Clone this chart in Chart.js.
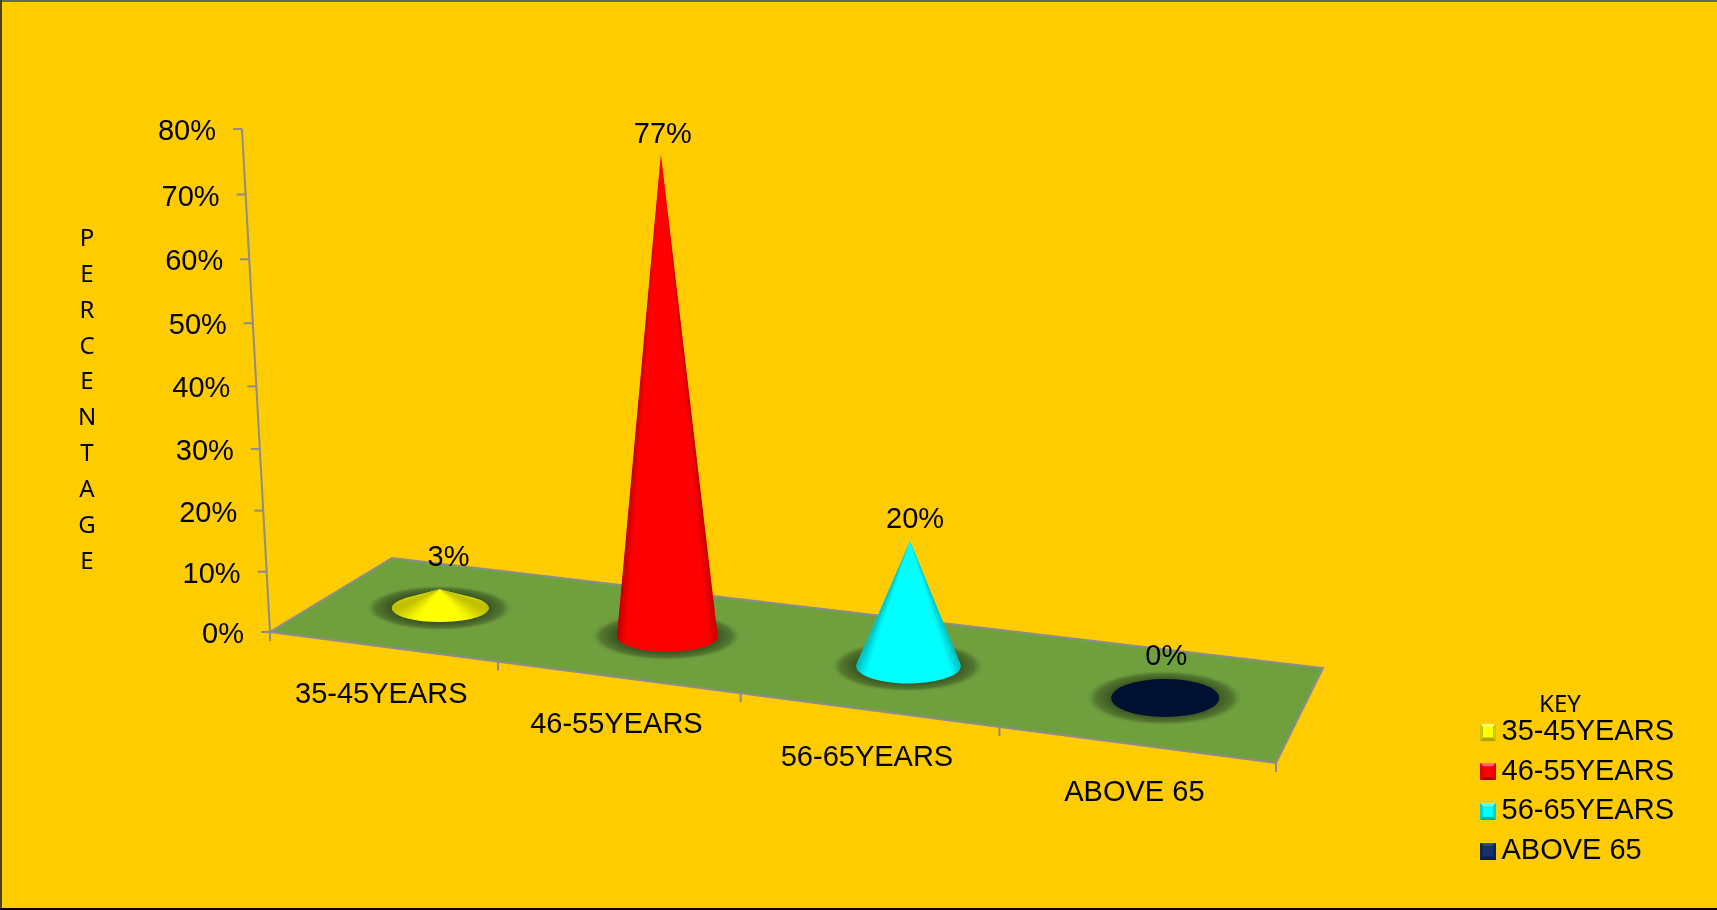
<!DOCTYPE html>
<html>
<head>
<meta charset="utf-8">
<title>Age groups</title>
<script src="https://cdn.jsdelivr.net/npm/chart.js@4/dist/chart.umd.min.js"></script>
<style>
  html, body { margin: 0; padding: 0; background: #FFCC00; }
  #caja { width: 1717px; height: 910px; }
</style>
</head>
<body>
<div id="caja"><canvas id="grafico" width="1717" height="910"></canvas></div>
<script>
const categorias = ['35-45YEARS', '46-55YEARS', '56-65YEARS', 'ABOVE 65'];
const valores = [3, 77, 20, 0];
const letrasEje = ['P', 'E', 'R', 'C', 'E', 'N', 'T', 'A', 'G', 'E'];
const tituloLeyenda = 'KEY';

const coloresCono = ['#ffff00', '#ff0000', '#00ffff', '#001030'];
const biselLeyenda = [
    ['#ffff00', '#ffff70', '#a8a800', '#c8c800'],
    ['#ff0000', '#ff6a6a', '#a80000', '#d80000'],
    ['#00ffff', '#70ffff', '#00a8a8', '#00d0d0'],
    ['#17306e', '#2c4c96', '#0c1c48', '#0f2358']
];

// esquinas del piso: frente-izq, frente-der, fondo-der, fondo-izq
const piso = [[270, 632], [1276, 763], [1323, 668], [392, 558]];
const ajusteEtiqueta = [[9, -31], [2, -19], [5, -21], [1, -41]];
const fuente = '"Liberation Sans", Arial, sans-serif';
const gris = '#8c8c8c';

const homografia = (() => {
    const [p0, p1, p2, p3] = piso;
    const sx = p0[0] - p1[0] + p2[0] - p3[0], sy = p0[1] - p1[1] + p2[1] - p3[1];
    const dx1 = p1[0] - p2[0], dx2 = p3[0] - p2[0], dy1 = p1[1] - p2[1], dy2 = p3[1] - p2[1];
    const den = dx1 * dy2 - dx2 * dy1;
    const g = (sx * dy2 - dx2 * sy) / den, h = (dx1 * sy - sx * dy1) / den;
    return {
        a: p1[0] - p0[0] + g * p1[0], b: p3[0] - p0[0] + h * p3[0], c: p0[0],
        d: p1[1] - p0[1] + g * p1[1], e: p3[1] - p0[1] + h * p3[1], f: p0[1], g, h
    };
})();

function proyectar(u, w) {
    const m = homografia;
    const z = m.g * u + m.h * w + 1;
    return [(m.a * u + m.b * w + m.c) / z, (m.d * u + m.e * w + m.f) / z];
}

// las verticales se abren un poco hacia los lados
function inclinacion(altura, x) {
    return altura * (x - 792) * 1.067e-4;
}

function aclarar(hex, f) {
    const n = parseInt(hex.slice(1), 16);
    const r = (n >> 16) & 255, g = (n >> 8) & 255, b = n & 255;
    return `rgb(${Math.round(r * f)},${Math.round(g * f)},${Math.round(b * f)})`;
}

function sombra(ctx, x, y, rx, ry) {
    ctx.save();
    ctx.translate(x - 1, y);
    ctx.scale(rx + 26, ry + 9);
    const g = ctx.createRadialGradient(0, 0, 0, 0, 0, 1);
    g.addColorStop(0, 'rgba(62,90,36,1)');
    g.addColorStop(0.68, 'rgba(62,90,36,1)');
    g.addColorStop(0.86, 'rgba(70,102,40,0.7)');
    g.addColorStop(1, 'rgba(112,160,62,0)');
    ctx.fillStyle = g;
    ctx.beginPath();
    ctx.arc(0, 0, 1, 0, Math.PI * 2);
    ctx.fill();
    ctx.restore();
}

function cono(ctx, x, y, rx, ry, altura, color) {
    if (altura <= ry * 0.2) {
        ctx.fillStyle = color;
        ctx.beginPath();
        ctx.ellipse(x, y, rx, ry, 0, 0, Math.PI * 2);
        ctx.fill();
        return;
    }
    const puntaX = x + inclinacion(altura, x), puntaY = y - altura;
    const t0 = -Math.asin(Math.min(0.95, ry / altura));

    // silueta en el color base
    ctx.save();
    ctx.beginPath();
    ctx.moveTo(puntaX, puntaY);
    ctx.ellipse(x, y, rx, ry, 0, t0, Math.PI - t0);
    ctx.closePath();
    ctx.fillStyle = color;
    ctx.fill();
    ctx.clip();

    // solo los lados se oscurecen, en cuñas desde la punta
    const umbral = Math.min(0.8, 0.36 + altura / 250);
    const pasos = 160;
    for (let i = 0; i < pasos; i++) {
        const a = t0 + (Math.PI - 2 * t0) * i / pasos;
        const b = t0 + (Math.PI - 2 * t0) * (i + 1) / pasos;
        const t = Math.abs(Math.cos((a + b) / 2));
        if (t < umbral) continue;
        ctx.fillStyle = aclarar(color, 1 - 0.35 * Math.pow((t - umbral) / (1 - umbral), 1.4));
        ctx.beginPath();
        ctx.moveTo(puntaX, puntaY);
        ctx.lineTo(x + rx * Math.cos(a), y + ry * Math.sin(a));
        ctx.lineTo(x + rx * Math.cos(b), y + ry * Math.sin(b));
        ctx.closePath();
        ctx.fill();
    }
    ctx.restore();
}

function iconoLeyenda(tonos) {
    const c = document.createElement('canvas');
    c.width = 20;
    c.height = 17;
    const g = c.getContext('2d');
    const [centro, arriba, abajo, lado] = tonos;
    const x0 = 4, y0 = 0, x1 = 20, y1 = 17, b = 3;
    const trozo = (col, pts) => {
        g.fillStyle = col;
        g.beginPath();
        pts.forEach((p, i) => i ? g.lineTo(p[0], p[1]) : g.moveTo(p[0], p[1]));
        g.closePath();
        g.fill();
    };
    g.fillStyle = centro;
    g.fillRect(x0, y0, x1 - x0, y1 - y0);
    trozo(arriba, [[x0, y0], [x1, y0], [x1 - b, y0 + b], [x0 + b, y0 + b]]);
    trozo(abajo, [[x0, y1], [x1, y1], [x1 - b, y1 - b], [x0 + b, y1 - b]]);
    trozo(lado, [[x0, y0], [x0 + b, y0 + b], [x0 + b, y1 - b], [x0, y1]]);
    trozo(lado, [[x1, y0], [x1 - b, y0 + b], [x1 - b, y1 - b], [x1, y1]]);
    return c;
}
const iconos = biselLeyenda.map(iconoLeyenda);

const escena = {
    id: 'escena',
    afterLayout(chart) {
        // la leyenda va abajo a la derecha, fuera del area del grafico
        const l = chart.legend;
        l.left = 1474.3;
        l.width = 171.4;
        l.right = 1710;
        l.top = 693;
        l.bottom = 885;
    },
    beforeDraw(chart) {
        const ctx = chart.ctx;
        ctx.save();
        ctx.fillStyle = '#FFCC00';
        ctx.fillRect(0, 0, chart.width, chart.height);
        // marco: arriba, izquierda y abajo
        ctx.fillStyle = '#666';
        ctx.fillRect(0, 0, chart.width, 2);
        ctx.fillStyle = '#4a4020';
        ctx.fillRect(0, 0, 2, chart.height);
        ctx.fillStyle = '#000';
        ctx.fillRect(0, chart.height - 2, chart.width, 2);
        ctx.restore();
    },
    beforeDatasetsDraw(chart) {
        const { ctx, scales } = chart;
        const x = scales.x, y = scales.y;
        const area = chart.chartArea;
        const cero = y.getPixelForValue(0);
        const total = cero - y.getPixelForValue(80);

        ctx.save();
        // piso
        ctx.beginPath();
        piso.forEach((p, i) => i ? ctx.lineTo(p[0], p[1]) : ctx.moveTo(p[0], p[1]));
        ctx.closePath();
        ctx.fillStyle = '#70A03E';
        ctx.fill();
        ctx.strokeStyle = gris;
        ctx.lineWidth = 2;
        ctx.stroke();

        // eje y inclinado, con una leve perspectiva
        const k = 0.954;
        const eje = v => {
            const t = (cero - y.getPixelForValue(v)) / total;
            const h = total * t * k / (1 - (1 - k) * t);
            return [piso[0][0] + inclinacion(h, piso[0][0]), cero - h];
        };
        ctx.beginPath();
        const abajo = eje(0), arriba = eje(80);
        ctx.moveTo(abajo[0], abajo[1]);
        ctx.lineTo(arriba[0], arriba[1]);
        ctx.lineWidth = 2;
        ctx.strokeStyle = gris;
        ctx.stroke();

        ctx.font = '29px ' + fuente;
        ctx.fillStyle = '#000';
        ctx.textAlign = 'right';
        ctx.textBaseline = 'middle';
        y.ticks.forEach(t => {
            const p = eje(t.value);
            ctx.beginPath();
            ctx.moveTo(p[0] - 9, p[1]);
            ctx.lineTo(p[0], p[1]);
            ctx.stroke();
            ctx.fillText(t.label, p[0] - 26, p[1] + 3);
        });

        // marcas y categorias del eje x
        ctx.textAlign = 'center';
        for (let i = 0; i <= categorias.length; i++) {
            const p = proyectar(i / categorias.length, 0);
            ctx.beginPath();
            ctx.moveTo(p[0], p[1]);
            ctx.lineTo(p[0], p[1] + 9);
            ctx.stroke();
        }
        categorias.forEach((c, i) => {
            const u = (x.getPixelForValue(i) - area.left) / (area.right - area.left);
            const p = proyectar(u, 0);
            ctx.fillText(c, p[0] - 1, p[1] + 48);
        });

        // titulo del eje, letra por letra
        ctx.font = '24px "Noto Sans", sans-serif';
        letrasEje.forEach((letra, i) => {
            ctx.fillText(letra, 87, 239 + i * 35.9);
        });
        ctx.restore();
    },
    afterDatasetsDraw(chart) {
        const { ctx, chartArea: area } = chart;
        const barras = chart.getDatasetMeta(0).data;
        const bases = barras.map(b => {
            const u = (b.x - area.left) / (area.right - area.left);
            const [px, py] = proyectar(u, 0.485);
            return { u, px, py, rx: 47.5 + 7.5 * u, ry: 13.2 + 6.6 * u, altura: (b.base - b.y) * 0.995 };
        });

        ctx.save();
        ctx.beginPath();
        piso.forEach((p, i) => i ? ctx.lineTo(p[0], p[1]) : ctx.moveTo(p[0], p[1]));
        ctx.closePath();
        ctx.clip();
        bases.forEach(b => sombra(ctx, b.px, b.py, b.rx, b.ry));
        ctx.restore();

        bases.forEach((b, i) => cono(ctx, b.px, b.py, b.rx, b.ry, b.altura, coloresCono[i]));

        ctx.save();
        ctx.font = '29px ' + fuente;
        ctx.fillStyle = '#000';
        ctx.textAlign = 'center';
        ctx.textBaseline = 'middle';
        bases.forEach((b, i) => {
            const px = b.px + inclinacion(b.altura, b.px);
            ctx.fillText(valores[i] + '%', px + ajusteEtiqueta[i][0], b.py - b.altura + ajusteEtiqueta[i][1]);
        });
        ctx.restore();
    }
};

new Chart(document.getElementById('grafico'), {
    type: 'bar',
    data: {
        labels: categorias,
        datasets: [{
            label: 'PERCENTAGE',
            data: valores,
            backgroundColor: 'rgba(0,0,0,0)',
            barPercentage: 0.4,
            categoryPercentage: 1
        }]
    },
    plugins: [escena],
    options: {
        responsive: false,
        animation: false,
        layout: { padding: { left: 270, right: 20, top: 129, bottom: 278 } },
        scales: {
            x: { display: false, grid: { display: false } },
            y: {
                display: false,
                min: 0,
                max: 80,
                ticks: { stepSize: 10, callback: v => v + '%' },
                grid: { display: false }
            }
        },
        plugins: {
            tooltip: { enabled: false },
            legend: {
                position: 'right',
                align: 'start',
                title: {
                    display: true,
                    text: tituloLeyenda,
                    color: '#000',
                    font: { family: '"Noto Sans", sans-serif', size: 24 },
                    padding: { top: 0, bottom: -15 }
                },
                labels: {
                    color: '#000',
                    font: { family: fuente, size: 29 },
                    usePointStyle: true,
                    pointStyleWidth: 2,
                    boxHeight: 17,
                    padding: 10.7,
                    generateLabels: () => categorias.map((c, i) => ({
                        text: c,
                        pointStyle: iconos[i],
                        fillStyle: coloresCono[i],
                        strokeStyle: coloresCono[i],
                        lineWidth: 0,
                        hidden: false,
                        index: i
                    }))
                }
            }
        }
    }
});
</script>
</body>
</html>
